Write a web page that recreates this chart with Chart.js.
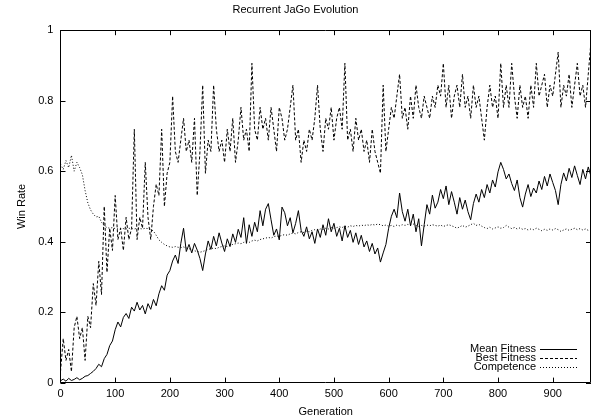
<!DOCTYPE html>
<html>
<head>
<meta charset="utf-8">
<title>Recurrent JaGo Evolution</title>
<script src="https://cdn.jsdelivr.net/npm/chart.js@4.4.1/dist/chart.umd.min.js"></script>
<style>
  html, body { margin: 0; padding: 0; background: #fff; }
  #wrap { width: 594px; height: 419px; }
</style>
</head>
<body>
<div id="wrap"><canvas id="chart"></canvas></div>
<script>
// Win rate per generation, every 5 generations.
const generations = [
  0, 5, 10, 15, 20, 25, 30, 35, 40, 45, 50, 55, 60, 65, 70, 75, 80, 85, 90, 95,
  100, 105, 110, 115, 120, 125, 130, 135, 140, 145, 150, 155, 160, 165, 170, 175, 180, 185, 190, 195,
  200, 205, 210, 215, 220, 225, 230, 235, 240, 245, 250, 255, 260, 265, 270, 275, 280, 285, 290, 295,
  300, 305, 310, 315, 320, 325, 330, 335, 340, 345, 350, 355, 360, 365, 370, 375, 380, 385, 390, 395,
  400, 405, 410, 415, 420, 425, 430, 435, 440, 445, 450, 455, 460, 465, 470, 475, 480, 485, 490, 495,
  500, 505, 510, 515, 520, 525, 530, 535, 540, 545, 550, 555, 560, 565, 570, 575, 580, 585, 590, 595,
  600, 605, 610, 615, 620, 625, 630, 635, 640, 645, 650, 655, 660, 665, 670, 675, 680, 685, 690, 695,
  700, 705, 710, 715, 720, 725, 730, 735, 740, 745, 750, 755, 760, 765, 770, 775, 780, 785, 790, 795,
  800, 805, 810, 815, 820, 825, 830, 835, 840, 845, 850, 855, 860, 865, 870, 875, 880, 885, 890, 895,
  900, 905, 910, 915, 920, 925, 930, 935, 940, 945, 950, 955, 960, 965, 970,
];

const meanFitness = [
  0.005, 0.010, 0.004, 0.012, 0.006, 0.009, 0.014, 0.008, 0.012, 0.018, 0.020, 0.026, 0.032, 0.040, 0.052, 0.045, 0.068, 0.080, 0.105, 0.118,
  0.150, 0.172, 0.158, 0.185, 0.196, 0.182, 0.214, 0.203, 0.228, 0.206, 0.219, 0.195, 0.224, 0.208, 0.236, 0.218, 0.252, 0.275, 0.262, 0.305,
  0.318, 0.345, 0.362, 0.338, 0.395, 0.438, 0.372, 0.392, 0.368, 0.395, 0.376, 0.352, 0.318, 0.365, 0.402, 0.378, 0.415, 0.388, 0.425, 0.396,
  0.372, 0.408, 0.386, 0.422, 0.398, 0.435, 0.412, 0.468, 0.395, 0.448, 0.415, 0.455, 0.428, 0.488, 0.445, 0.492, 0.508, 0.462, 0.418, 0.436,
  0.405, 0.498, 0.482, 0.445, 0.468, 0.425, 0.452, 0.488, 0.432, 0.415, 0.442, 0.408, 0.428, 0.395, 0.436, 0.412, 0.448, 0.418, 0.465, 0.428,
  0.452, 0.415, 0.438, 0.402, 0.445, 0.412, 0.432, 0.398, 0.425, 0.392, 0.418, 0.385, 0.402, 0.372, 0.395, 0.365, 0.382, 0.342, 0.368, 0.392,
  0.438, 0.472, 0.492, 0.468, 0.538, 0.485, 0.458, 0.492, 0.445, 0.478, 0.428, 0.465, 0.388, 0.448, 0.505, 0.478, 0.532, 0.495, 0.512, 0.548,
  0.522, 0.558, 0.505, 0.542, 0.512, 0.478, 0.525, 0.492, 0.518, 0.485, 0.462, 0.508, 0.535, 0.512, 0.548, 0.525, 0.562, 0.538, 0.575, 0.555,
  0.598, 0.625, 0.605, 0.578, 0.592, 0.565, 0.545, 0.575, 0.525, 0.498, 0.535, 0.562, 0.528, 0.552, 0.538, 0.572, 0.548, 0.585, 0.558, 0.592,
  0.568, 0.545, 0.505, 0.562, 0.595, 0.572, 0.608, 0.582, 0.615, 0.588, 0.562, 0.605, 0.578, 0.612, 0.585,
];

const bestFitness = [
  0.031, 0.125, 0.063, 0.094, 0.031, 0.156, 0.188, 0.125, 0.156, 0.063, 0.188, 0.156, 0.281, 0.219, 0.344, 0.250, 0.500, 0.313, 0.438, 0.375,
  0.531, 0.406, 0.438, 0.375, 0.469, 0.406, 0.438, 0.719, 0.406, 0.469, 0.438, 0.625, 0.469, 0.406, 0.500, 0.563, 0.531, 0.719, 0.500, 0.594,
  0.625, 0.813, 0.656, 0.625, 0.688, 0.750, 0.656, 0.688, 0.625, 0.750, 0.531, 0.656, 0.844, 0.594, 0.688, 0.656, 0.844, 0.719, 0.656, 0.688,
  0.625, 0.719, 0.656, 0.750, 0.625, 0.688, 0.781, 0.688, 0.719, 0.656, 0.906, 0.719, 0.688, 0.781, 0.719, 0.750, 0.688, 0.781, 0.719, 0.656,
  0.781, 0.750, 0.688, 0.719, 0.781, 0.844, 0.688, 0.719, 0.625, 0.688, 0.656, 0.719, 0.688, 0.750, 0.844, 0.719, 0.656, 0.750, 0.719, 0.781,
  0.688, 0.750, 0.781, 0.719, 0.906, 0.688, 0.719, 0.656, 0.750, 0.688, 0.719, 0.656, 0.688, 0.625, 0.719, 0.656, 0.625, 0.594, 0.844, 0.656,
  0.719, 0.781, 0.750, 0.813, 0.875, 0.750, 0.781, 0.719, 0.813, 0.750, 0.844, 0.781, 0.750, 0.813, 0.781, 0.750, 0.813, 0.781, 0.844, 0.813,
  0.906, 0.781, 0.844, 0.750, 0.813, 0.844, 0.781, 0.875, 0.781, 0.813, 0.750, 0.844, 0.781, 0.813, 0.750, 0.688, 0.781, 0.844, 0.781, 0.813,
  0.750, 0.906, 0.781, 0.844, 0.781, 0.906, 0.813, 0.750, 0.844, 0.781, 0.813, 0.750, 0.844, 0.781, 0.906, 0.813, 0.844, 0.875, 0.781, 0.844,
  0.813, 0.875, 0.938, 0.781, 0.844, 0.813, 0.875, 0.781, 0.844, 0.906, 0.813, 0.844, 0.781, 0.875, 0.969,
];

const competence = [
  0.620, 0.605, 0.630, 0.610, 0.645, 0.600, 0.625, 0.610, 0.590, 0.545, 0.510, 0.490, 0.478, 0.470, 0.472, 0.455, 0.445, 0.440, 0.438, 0.440,
  0.437, 0.436, 0.438, 0.437, 0.436, 0.438, 0.437, 0.436, 0.438, 0.437, 0.436, 0.438, 0.437, 0.435, 0.430, 0.418, 0.405, 0.398, 0.392, 0.388,
  0.385, 0.384, 0.386, 0.384, 0.383, 0.385, 0.382, 0.380, 0.377, 0.374, 0.372, 0.370, 0.372, 0.375, 0.378, 0.380, 0.382, 0.380, 0.384, 0.386,
  0.388, 0.386, 0.390, 0.392, 0.394, 0.396, 0.394, 0.398, 0.400, 0.398, 0.402, 0.404, 0.402, 0.406, 0.408, 0.410, 0.412, 0.410, 0.414, 0.416,
  0.415, 0.418, 0.420, 0.418, 0.422, 0.424, 0.422, 0.426, 0.428, 0.426, 0.430, 0.428, 0.432, 0.434, 0.432, 0.436, 0.434, 0.438, 0.436, 0.440,
  0.438, 0.440, 0.442, 0.440, 0.444, 0.441, 0.445, 0.443, 0.446, 0.444, 0.447, 0.445, 0.448, 0.446, 0.449, 0.447, 0.450, 0.448, 0.445, 0.447,
  0.444, 0.446, 0.443, 0.447, 0.445, 0.448, 0.446, 0.449, 0.447, 0.450, 0.446, 0.443, 0.446, 0.444, 0.447, 0.445, 0.448, 0.446, 0.444, 0.447,
  0.443, 0.446, 0.448, 0.445, 0.442, 0.438, 0.442, 0.446, 0.441, 0.444, 0.448, 0.452, 0.446, 0.449, 0.444, 0.440, 0.437, 0.441, 0.436, 0.439,
  0.442, 0.438, 0.440, 0.446, 0.441, 0.437, 0.440, 0.436, 0.439, 0.435, 0.437, 0.433, 0.436, 0.434, 0.438, 0.435, 0.431, 0.435, 0.432, 0.436,
  0.433, 0.437, 0.434, 0.429, 0.433, 0.436, 0.432, 0.435, 0.438, 0.434, 0.437, 0.433, 0.436, 0.432, 0.434,
];

const seriesLabels = ["Mean Fitness", "Best Fitness", "Competence"];
const xTicks = [0, 100, 200, 300, 400, 500, 600, 700, 800, 900];
const yTicks = [0, 0.2, 0.4, 0.6, 0.8, 1];

const FONT = "'Liberation Sans', Arial, Helvetica, sans-serif";
Chart.defaults.font.family = FONT;
Chart.defaults.font.size = 11;
Chart.defaults.color = "#000";

const points = (values) => generations.map((g, i) => ({ x: g, y: values[i] }));

// gnuplot style: border box with inward ticks mirrored on all four sides
const gnuplotFrame = {
  id: "gnuplotFrame",
  afterDraw(chart) {
    const { ctx, chartArea: a, scales } = chart;
    const tick = 5;
    ctx.save();
    ctx.strokeStyle = "#000";
    ctx.lineWidth = 1;
    ctx.setLineDash([]);
    ctx.beginPath();
    ctx.rect(Math.round(a.left) + 0.5, Math.round(a.top) + 0.5, Math.round(a.right - a.left) - 1, Math.round(a.bottom - a.top));
    scales.x.ticks.forEach((t) => {
      const x = Math.round(scales.x.getPixelForValue(t.value)) + 0.5;
      ctx.moveTo(x, a.bottom);
      ctx.lineTo(x, a.bottom - tick);
      ctx.moveTo(x, a.top);
      ctx.lineTo(x, a.top + tick);
    });
    scales.y.ticks.forEach((t) => {
      const y = Math.round(scales.y.getPixelForValue(t.value)) + 0.5;
      ctx.moveTo(a.left, y);
      ctx.lineTo(a.left + tick, y);
      ctx.moveTo(a.right, y);
      ctx.lineTo(a.right - tick, y);
    });
    ctx.stroke();
    ctx.restore();
  },
};

// key in the lower right corner, text right-aligned with a line sample after it
const insideKey = {
  id: "insideKey",
  afterDraw(chart) {
    const { ctx, chartArea: a } = chart;
    const textRight = a.right - 55;
    const lineStart = a.right - 51;
    const lineEnd = a.right - 14;
    ctx.save();
    ctx.font = `11px ${FONT}`;
    ctx.textAlign = "right";
    ctx.textBaseline = "middle";
    ctx.fillStyle = "#000";
    ctx.strokeStyle = "#000";
    ctx.lineWidth = 1;
    chart.data.datasets.forEach((ds, i) => {
      const y = a.bottom - 34 + i * 9.3;
      ctx.fillText(ds.label, textRight, y);
      ctx.beginPath();
      ctx.setLineDash(ds.borderDash || []);
      ctx.moveTo(lineStart, Math.round(y) + 0.5);
      ctx.lineTo(lineEnd, Math.round(y) + 0.5);
      ctx.stroke();
    });
    ctx.restore();
  },
};

const lineStyle = { borderColor: "#000", borderWidth: 1, pointRadius: 0, tension: 0, fill: false };

new Chart(document.getElementById("chart"), {
  type: "line",
  data: {
    datasets: [
      { ...lineStyle, label: seriesLabels[0], data: points(meanFitness) },
      { ...lineStyle, label: seriesLabels[1], data: points(bestFitness), borderDash: [3, 2] },
      { ...lineStyle, label: seriesLabels[2], data: points(competence), borderDash: [1, 2] },
    ],
  },
  plugins: [gnuplotFrame, insideKey],
  options: {
    responsive: true,
    maintainAspectRatio: false,
    animation: false,
    layout: { padding: { left: 0, right: 3, top: 0, bottom: 0 } },
    plugins: {
      legend: { display: false },
      tooltip: { enabled: false },
      title: {
        display: true,
        text: "Recurrent JaGo Evolution",
        font: { size: 11, weight: "normal" },
        padding: { top: 3, bottom: 14 },
      },
    },
    scales: {
      x: {
        type: "linear",
        min: 0,
        max: 970,
        afterBuildTicks: (s) => { s.ticks = xTicks.map((v) => ({ value: v })); },
        ticks: { padding: 5, maxRotation: 0, autoSkip: false, callback: (v) => String(v) },
        grid: { display: false, drawTicks: false },
        border: { display: false },
        title: { display: true, text: "Generation", padding: { top: 0, bottom: 0 } },
      },
      y: {
        type: "linear",
        min: 0,
        max: 1,
        afterBuildTicks: (s) => { s.ticks = yTicks.map((v) => ({ value: v })); },
        ticks: { padding: 7, autoSkip: false, callback: (v) => String(v) },
        grid: { display: false, drawTicks: false },
        border: { display: false },
        title: { display: true, text: "Win Rate", padding: { top: 15, bottom: 3 } },
      },
    },
  },
});
</script>
</body>
</html>
